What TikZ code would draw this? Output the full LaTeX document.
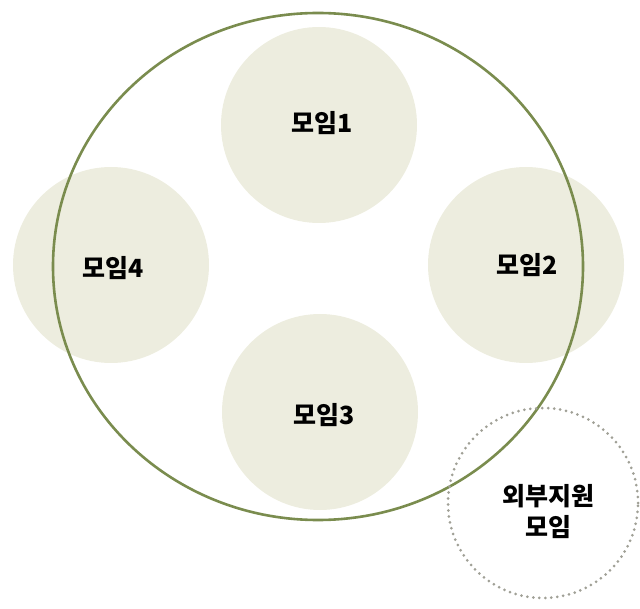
\documentclass[tikz,border=0pt]{standalone}
\usepackage{fontspec}
\newfontfamily\kr{Noto Sans CJK KR}
\usetikzlibrary{shapes.geometric}
\definecolor{groupfill}{RGB}{237,237,223}
\definecolor{ringgreen}{RGB}{122,140,78}
\definecolor{dotgray}{RGB}{160,160,150}
\tikzset{
  group/.style={circle, fill=groupfill, minimum size=196pt, inner sep=0pt},
  ring/.style={ellipse, draw=ringgreen, line width=2.6pt, minimum width=530pt, minimum height=507pt, inner sep=0pt},
  extgroup/.style={circle, draw=dotgray, line width=3pt, dash pattern=on 0pt off 6pt, line cap=round, minimum size=190pt, inner sep=0pt},
  lbl/.style={font=\kr\bfseries\fontsize{25pt}{31pt}\selectfont, inner sep=0pt, align=center}
}
\begin{document}
\begin{tikzpicture}[x=1pt,y=-1pt]
\useasboundingbox (0,0) rectangle (640,609);
\node[group] (g1) at (319,125) {};
\node[group] (g2) at (526,265) {};
\node[group] (g3) at (320,412) {};
\node[group] (g4) at (111,265) {};
\node[ring] (ring) at (318,266.5) {};
\node[extgroup] (ext) at (543,503) {};
\node[lbl] (t1) at (322,123) {모임1};
\node[lbl] (t2) at (527,265) {모임2};
\node[lbl] (t3) at (324,415) {모임3};
\node[lbl] (t4) at (113,268) {모임4};
\node[lbl] (t5) at (548,512) {외부지원\\모임};
\end{tikzpicture}
\end{document}
